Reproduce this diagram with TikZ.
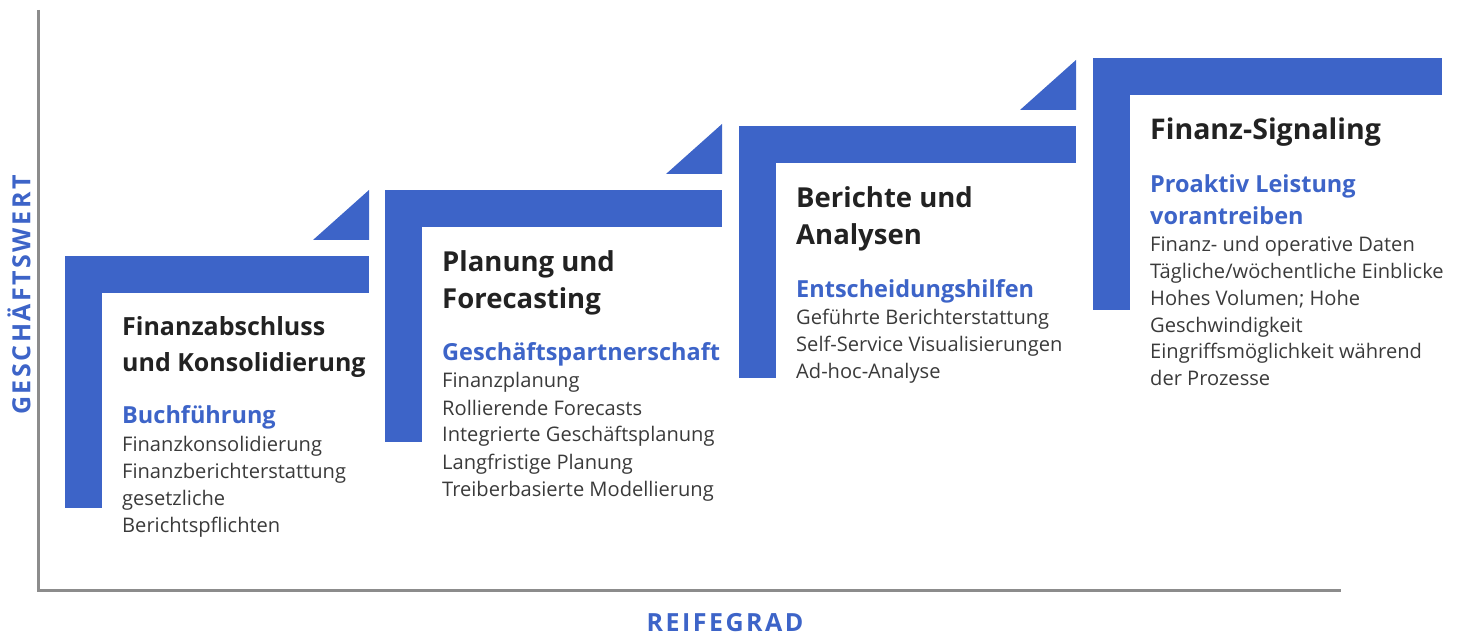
\documentclass[tikz,border=0pt]{standalone}
\usepackage{fontspec}
\setmainfont{Open Sans}
\usetikzlibrary{positioning}
\definecolor{stepblue}{HTML}{3D64C8}
\definecolor{titlegray}{HTML}{222222}
\definecolor{bodygray}{HTML}{3A3A3A}
\definecolor{axisgray}{HTML}{8C8C8C}
% L-Stufe: Name, x, y (oben links), Breite
\newcommand{\stufe}[4]{%
    \fill[stepblue] (#2,#3) rectangle ++(#4,37);
    \fill[stepblue] (#2,#3) rectangle ++(37,252);
    \coordinate (#1) at (#2,#3);
}
% Dreieck über dem rechten Ende einer Stufe: x (rechts), y (Oberkante Stufe)
\newcommand{\ecke}[2]{%
    \fill[stepblue] (#1,#2-16) -- ++(0,-50) -- ++(-56,50) -- cycle;
}
\tikzset{
    titel/.style={anchor=base west, inner sep=0pt, text=titlegray,
        font=\fontsize{27.5}{30}\selectfont\bfseries},
    unter/.style={anchor=base west, inner sep=0pt, text=stepblue,
        font=\fontsize{23.5}{27}\selectfont\bfseries},
    punkte/.style={anchor=base west, inner sep=0pt, text=bodygray,
        font=\fontsize{20.1}{23}\selectfont},
    achse/.style={inner sep=0pt, text=stepblue,
        font=\fontsize{25}{28}\selectfont\bfseries\addfontfeatures{LetterSpace=10}},
}

\begin{document}
\begin{tikzpicture}[x=1pt, y=-1pt]
    \useasboundingbox (0,0) rectangle (1460,636);

    % Achsen
    \coordinate (ytop) at (38,10);
    \coordinate (origin) at (38,590);
    \coordinate (xend) at (1341,590);
    \draw[axisgray, line width=3pt] (ytop) -- (origin) -- (xend);
    \node[achse, rotate=90] (ylab) at (19,295) {GESCHÄFTSWERT};
    \node[achse, anchor=base] (xlab) at (725,631) {REIFEGRAD};

    % Stufe 1
    \stufe{s1}{65}{256}{304}
    \ecke{369}{256}
    \node[titel, font=\fontsize{25}{30}\selectfont\bfseries] (t1a) at (122,336) {Finanzabschluss};
    \node[titel, font=\fontsize{25}{30}\selectfont\bfseries] (t1b) at (122,372) {und Konsolidierung};
    \node[unter] (u1) at (122,423) {Buchführung};
    \foreach \zeile [count=\i] in {Finanzkonsolidierung,
        Finanzberichterstattung, gesetzliche, Berichtspflichten}
        \node[punkte] (p1-\i) at (122,424+27*\i) {\zeile};

    % Stufe 2
    \stufe{s2}{385}{190}{337}
    \ecke{722}{190}
    \node[titel] (t2a) at (442,272) {Planung und};
    \node[titel] (t2b) at (442,309) {Forecasting};
    \node[unter] (u2) at (442,361) {Geschäftspartnerschaft};
    \foreach \zeile [count=\i] in {Finanzplanung, Rollierende Forecasts,
        Integrierte Geschäftsplanung, Langfristige Planung,
        Treiberbasierte Modellierung}
        \node[punkte] (p2-\i) at (442,361+27*\i) {\zeile};

    % Stufe 3
    \stufe{s3}{739}{126}{337}
    \ecke{1076}{126}
    \node[titel] (t3a) at (796,208) {Berichte und};
    \node[titel] (t3b) at (796,245) {Analysen};
    \node[unter] (u3) at (796,298) {Entscheidungshilfen};
    \foreach \zeile [count=\i] in {Geführte Berichterstattung,
        Self-Service Visualisierungen, Ad-hoc-Analyse}
        \node[punkte] (p3-\i) at (796,298+27*\i) {\zeile};

    % Stufe 4
    \stufe{s4}{1093}{58}{349}
    \node[titel, font=\fontsize{28.5}{30}\selectfont\bfseries] (t4a) at (1150,140) {Finanz-Signaling};
    \node[unter] (u4a) at (1150,193) {Proaktiv Leistung};
    \node[unter] (u4b) at (1150,225) {vorantreiben};
    \foreach \zeile [count=\i] in {Finanz- und operative Daten,
        Tägliche/wöchentliche Einblicke, Hohes Volumen; Hohe,
        Geschwindigkeit, Eingriffsmöglichkeit während, der Prozesse}
        \node[punkte] (p4-\i) at (1150,225+26.8*\i) {\zeile};
\end{tikzpicture}
\end{document}
